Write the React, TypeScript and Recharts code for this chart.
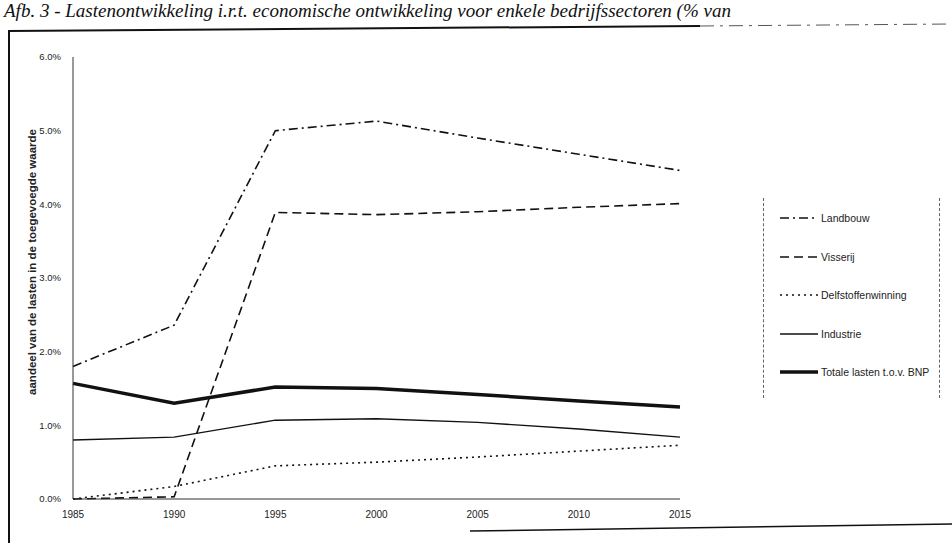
import React from 'react'
import { LineChart, Line, XAxis, YAxis } from 'recharts'

const years = [1985, 1990, 1995, 2000, 2005, 2010, 2015]
const landbouw = [1.8, 2.36, 5.0, 5.13, 4.9, 4.68, 4.46]
const visserij = [0.0, 0.03, 3.89, 3.86, 3.9, 3.96, 4.01]
const delfstoffen = [0.0, 0.17, 0.45, 0.5, 0.57, 0.65, 0.73]
const industrie = [0.8, 0.84, 1.07, 1.09, 1.04, 0.95, 0.84]
const totaal = [1.57, 1.3, 1.52, 1.5, 1.42, 1.33, 1.25]

const xTicks = [1985, 1990, 1995, 2000, 2005, 2010, 2015]
const yTicks = [0, 1, 2, 3, 4, 5, 6]

const series = [
  { key: 'landbouw', name: 'Landbouw', values: landbouw, dash: '9 4 2 4', width: 1.6 },
  { key: 'visserij', name: 'Visserij', values: visserij, dash: '9 5', width: 1.6 },
  { key: 'delfstoffen', name: 'Delfstoffenwinning', values: delfstoffen, dash: '2 4', width: 1.6 },
  { key: 'industrie', name: 'Industrie', values: industrie, dash: undefined, width: 1.4 },
  { key: 'totaal', name: 'Totale lasten t.o.v. BNP', values: totaal, dash: undefined, width: 3.5 },
]

const data = years.map((year, i) => {
  const row: Record<string, number> = { year }
  series.forEach((s) => {
    row[s.key] = s.values[i]
  })
  return row
})

const sans = 'Arial, "Liberation Sans", sans-serif'

export default function App() {
  return (
    <div
      style={{
        position: 'absolute',
        left: 0,
        top: 0,
        width: 952,
        height: 543,
        overflow: 'hidden',
        background: '#fff',
      }}
    >
      {/* title */}
      <div
        style={{
          position: 'absolute',
          left: 4,
          top: 0,
          whiteSpace: 'nowrap',
          fontFamily: '"Liberation Serif", "DejaVu Serif", serif',
          fontStyle: 'italic',
          fontSize: 19,
          lineHeight: '22px',
          color: '#111',
        }}
      >
        Afb. 3 - Lastenontwikkeling i.r.t. economische ontwikkeling voor enkele bedrijfssectoren (% van
      </div>

      {/* frame */}
      <svg width={952} height={543} style={{ position: 'absolute', left: 0, top: 0 }}>
        <line x1={8} y1={31} x2={700} y2={26} stroke="#111" strokeWidth={2} />
        <line x1={700} y1={26} x2={952} y2={24} stroke="#555" strokeWidth={1} strokeDasharray="14 6 3 6" />
        <line x1={9} y1={31} x2={9} y2={543} stroke="#111" strokeWidth={2} />
        <line x1={470} y1={531} x2={952} y2={524} stroke="#111" strokeWidth={1.5} />
      </svg>

      <div
        style={{
          position: 'absolute',
          left: 32,
          top: 262,
          transform: 'translate(-50%, -50%) rotate(-90deg)',
          whiteSpace: 'nowrap',
          fontFamily: sans,
          fontSize: 11.5,
          fontWeight: 'bold',
          color: '#222',
        }}
      >
        aandeel van de lasten in de toegevoegde waarde
      </div>

      <div style={{ position: 'absolute', left: 0, top: 0 }}>
        <LineChart
          width={952}
          height={543}
          data={data}
          margin={{ top: 57, right: 272, bottom: 14, left: 28 }}
        >
          <XAxis
            dataKey="year"
            type="number"
            domain={[1985, 2015]}
            ticks={xTicks}
            axisLine={{ stroke: '#333', strokeWidth: 1 }}
            tickLine={false}
            tick={{ fontFamily: sans, fontSize: 10, fill: '#222' }}
            tickMargin={6}
            height={30}
          />
          <YAxis
            type="number"
            domain={[0, 6]}
            ticks={yTicks}
            tickFormatter={(v: number) => `${v.toFixed(1)}%`}
            axisLine={{ stroke: '#333', strokeWidth: 1 }}
            tickLine={false}
            tick={{ fontFamily: sans, fontSize: 9.5, fill: '#222' }}
            tickMargin={6}
            width={45}
          />
          {series.map((s) => (
            <Line
              key={s.key}
              type="linear"
              dataKey={s.key}
              name={s.name}
              stroke="#111"
              strokeWidth={s.width}
              strokeDasharray={s.dash}
              dot={false}
              isAnimationActive={false}
            />
          ))}
        </LineChart>
      </div>

      {/* legend */}
      <div
        style={{
          position: 'absolute',
          left: 763,
          top: 198,
          width: 175,
          height: 200,
          borderLeft: '1px dashed #666',
          borderRight: '1px dashed #666',
        }}
      >
        {series.map((s, i) => (
          <div
            key={s.key}
            style={{
              position: 'absolute',
              left: 16,
              top: 21 + i * 38.5 - 7,
              display: 'flex',
              alignItems: 'center',
              whiteSpace: 'nowrap',
              fontFamily: sans,
              fontSize: 10.5,
              color: '#222',
            }}
          >
            <svg width={38} height={12}>
              <line
                x1={0}
                y1={6}
                x2={38}
                y2={6}
                stroke="#111"
                strokeWidth={s.width}
                strokeDasharray={s.dash}
              />
            </svg>
            <span style={{ marginLeft: 3 }}>{s.name}</span>
          </div>
        ))}
      </div>
    </div>
  )
}
